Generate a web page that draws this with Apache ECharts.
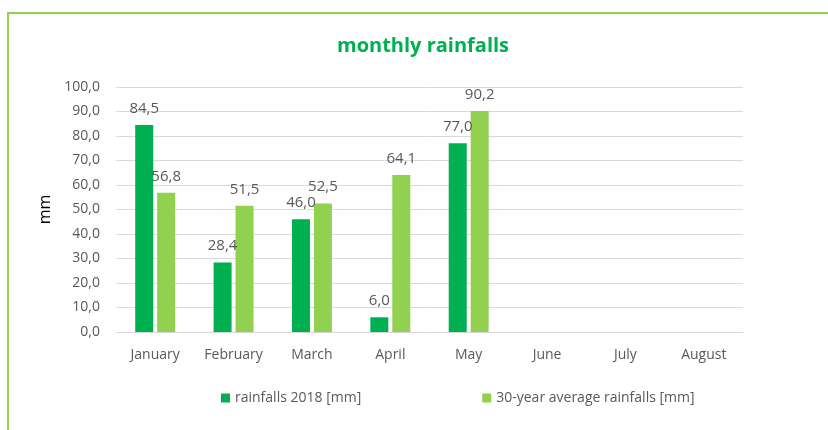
<!DOCTYPE html>
<html>
<head>
<meta charset="utf-8">
<script src="https://cdn.jsdelivr.net/npm/echarts@6/dist/echarts.min.js"></script>
<style>
  html, body { margin: 0; padding: 0; background: #fff; }
  #main { width: 828px; height: 430px; }
</style>
</head>
<body>
<div id="main"></div>
<script>
var months = ['January', 'February', 'March', 'April', 'May', 'June', 'July', 'August'];
var rain2018 = [84.5, 28.4, 46.0, 6.0, 77.0, null, null, null];
var rainAvg = [56.8, 51.5, 52.5, 64.1, 90.2, null, null, null];
var seriesNames = ['rainfalls 2018 [mm]', '30-year average rainfalls [mm]'];

var font = '"Open Sans", "Noto Sans", sans-serif';
var myChart = echarts.init(document.getElementById('main'));

function fmt(v) {
    return v.toFixed(1).replace('.', ',');
}

var labelOpt = {
    show: true,
    position: 'top',
    distance: 9,
    color: '#595959',
    fontSize: 15,
    fontFamily: font,
    formatter: function(p) { return fmt(p.value); }
};

option = {
    animation: false,
    graphic: [{
        type: 'rect',
        shape: { x: 8, y: 13, width: 860, height: 460 },
        style: { fill: 'none', stroke: '#92d050', lineWidth: 2 },
        silent: true
    }],
    title: {
        text: 'monthly rainfalls',
        left: 332,
        top: 31,
        textStyle: { color: '#00b050', fontSize: 20, fontWeight: 'bold', fontFamily: font }
    },
    legend: {
        bottom: 20,
        left: 216,
        itemWidth: 9,
        itemHeight: 9,
        itemGap: 121,
        icon: 'rect',
        textStyle: { color: '#595959', fontSize: 14, fontFamily: font },
        data: seriesNames
    },
    grid: {
        left: 116,
        right: 85,
        top: 87,
        bottom: 98,
        containLabel: false
    },
    xAxis: {
        type: 'category',
        data: months,
        axisLine: { lineStyle: { color: '#d9d9d9' } },
        axisTick: { show: false },
        axisLabel: { color: '#595959', fontSize: 14, fontFamily: font, margin: 16 }
    },
    yAxis: {
        type: 'value',
        min: 0,
        max: 100,
        interval: 10,
        name: 'mm',
        nameLocation: 'middle',
        nameGap: 60,
        nameRotate: 90,
        nameTextStyle: { color: '#000', fontSize: 16, fontFamily: font },
        axisLine: { show: false },
        axisTick: { show: false },
        splitLine: { lineStyle: { color: '#d9d9d9' } },
        axisLabel: { color: '#595959', fontSize: 14, fontFamily: font, margin: 16, formatter: fmt }
    },
    series: [{
        name: seriesNames[0],
        type: 'bar',
        data: rain2018,
        barWidth: 18,
        barGap: '22%',
        itemStyle: { color: '#00b050' },
        label: labelOpt
    }, {
        name: seriesNames[1],
        type: 'bar',
        data: rainAvg,
        barWidth: 18,
        itemStyle: { color: '#92d050' },
        label: labelOpt
    }]
};

myChart.setOption(option);
</script>
</body>
</html>
